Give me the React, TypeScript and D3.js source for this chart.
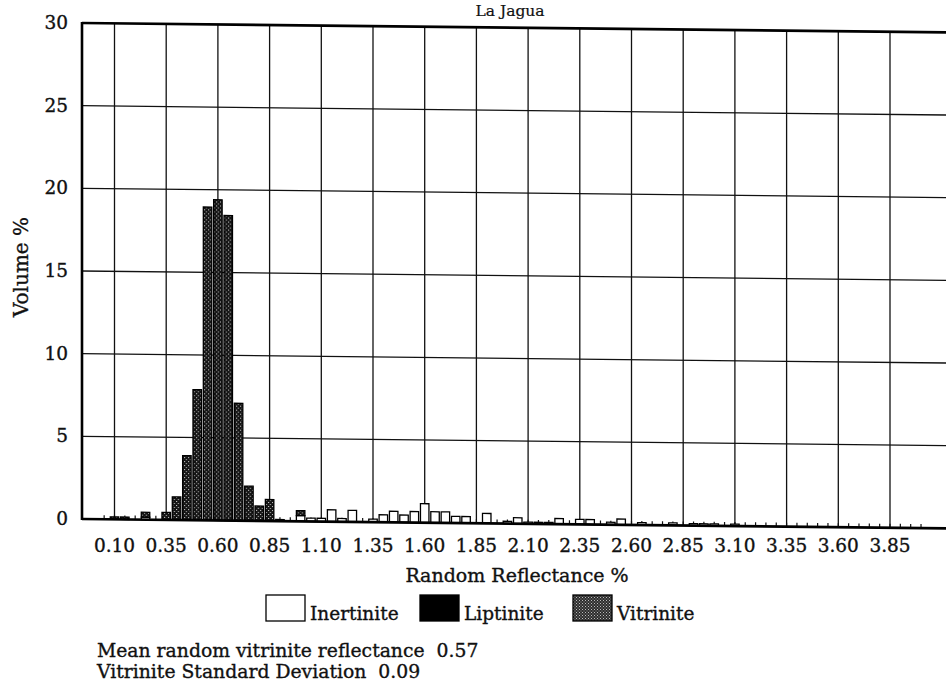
import React from 'react';
import * as d3 from 'd3';

const bins = [
  0.05, 0.1, 0.15, 0.2, 0.25, 0.3, 0.35, 0.4, 0.45, 0.5,
  0.55, 0.6, 0.65, 0.7, 0.75, 0.8, 0.85, 0.9, 0.95, 1.0,
  1.05, 1.1, 1.15, 1.2, 1.25, 1.3, 1.35, 1.4, 1.45, 1.5,
  1.55, 1.6, 1.65, 1.7, 1.75, 1.8, 1.85, 1.9, 1.95, 2.0,
  2.05, 2.1, 2.15, 2.2, 2.25, 2.3, 2.35, 2.4, 2.45, 2.5,
  2.55, 2.6, 2.65, 2.7, 2.75, 2.8, 2.85, 2.9, 2.95, 3.0,
  3.05, 3.1, 3.15, 3.2, 3.25, 3.3, 3.35, 3.4, 3.45, 3.5,
  3.55, 3.6, 3.65, 3.7, 3.75, 3.8, 3.85, 3.9, 3.95, 4.0,
];

const inertinite = [
  0, 0, 0, 0, 0.15, 0, 0, 0, 0, 0,
  0, 0, 0, 0, 0, 0, 0, 0.1, 0, 0.35,
  0.2, 0.2, 0.72, 0.2, 0.7, 0, 0.18, 0.45, 0.67, 0.45,
  0.67, 1.15, 0.67, 0.67, 0.4, 0.4, 0, 0.6, 0, 0.14,
  0.36, 0.1, 0.1, 0.1, 0.34, 0, 0.3, 0.3, 0, 0.15,
  0.35, 0, 0.15, 0, 0, 0.15, 0, 0.12, 0.12, 0.12,
  0, 0.12, 0, 0, 0, 0, 0, 0, 0, 0,
  0, 0, 0, 0, 0, 0, 0, 0, 0, 0,
];

const liptinite = [
  0, 0, 0, 0, 0, 0, 0, 0, 0, 0,
  0, 0, 0, 0, 0, 0, 0, 0, 0, 0,
  0, 0, 0, 0, 0, 0, 0, 0, 0, 0,
  0, 0, 0, 0, 0, 0, 0, 0, 0, 0,
  0, 0, 0, 0, 0, 0, 0, 0, 0, 0,
  0, 0, 0, 0, 0, 0, 0, 0, 0, 0,
  0, 0, 0, 0, 0, 0, 0, 0, 0, 0,
  0, 0, 0, 0, 0, 0, 0, 0, 0, 0,
];

const vitrinite = [
  0, 0.15, 0.15, 0, 0.3, 0, 0.45, 1.4, 3.9, 7.9,
  18.95, 19.4, 18.45, 7.1, 2.1, 0.9, 1.3, 0, 0, 0.3,
  0, 0, 0, 0, 0, 0, 0, 0, 0, 0,
  0, 0, 0, 0, 0, 0, 0, 0, 0, 0,
  0, 0, 0, 0, 0, 0, 0, 0, 0, 0,
  0, 0, 0, 0, 0, 0, 0, 0, 0, 0,
  0, 0, 0, 0, 0, 0, 0, 0, 0, 0,
  0, 0, 0, 0, 0, 0, 0, 0, 0, 0,
];

const xTickValues = [0.1, 0.35, 0.6, 0.85, 1.1, 1.35, 1.6, 1.85, 2.1, 2.35, 2.6, 2.85, 3.1, 3.35, 3.6, 3.85];
const xTickLabels = ['0.10', '0.35', '0.60', '0.85', '1.10', '1.35', '1.60', '1.85', '2.10', '2.35', '2.60', '2.85', '3.10', '3.35', '3.60', '3.85'];
const yTicks = [0, 5, 10, 15, 20, 25, 30];

const seriesKeys = ['inertinite', 'liptinite', 'vitrinite'];
const legendLabels = ['Inertinite', 'Liptinite', 'Vitrinite'];

const FONT = '"DejaVu Serif", "Liberation Serif", serif';

export default function App() {
  const W = 946;
  const H = 684;
  const left = 82;
  const right = 946;
  const x = d3.scaleLinear().domain([0.1, 3.85]).range([114.5, 890]);
  const y = d3.scaleLinear().domain([0, 30]).range([519, 23]);
  const binW = x(0.05) - x(0);
  const barW = binW * 0.82;

  const rows = bins.map((b, i) => ({
    bin: b,
    inertinite: inertinite[i],
    liptinite: liptinite[i],
    vitrinite: vitrinite[i],
  }));
  const stacked = d3.stack<any>().keys(seriesKeys)(rows);
  const fills: Record<string, string> = {
    inertinite: '#ffffff',
    liptinite: '#000000',
    vitrinite: 'url(#vitPat)',
  };
  const txt = { fill: '#111', stroke: '#111', strokeWidth: 0.35 };

  return (
    <svg
      width={W}
      height={H}
      style={{ position: 'absolute', left: 0, top: 0, background: '#fff' }}
      fontFamily={FONT}
    >
      <defs>
        <pattern id="vitPat" width="4" height="4" patternUnits="userSpaceOnUse">
          <rect width="4" height="4" fill="#141414" />
          <rect x="0" y="0" width="1" height="1" fill="#d8d8d8" />
          <rect x="2" y="2" width="1" height="1" fill="#d8d8d8" />
        </pattern>
        <pattern id="vitLeg" width="3" height="3" patternUnits="userSpaceOnUse">
          <rect width="3" height="3" fill="#2e2e2e" />
          <rect x="0" y="0" width="1" height="1" fill="#bbbbbb" />
          <rect x="1.5" y="1.5" width="1" height="1" fill="#999999" />
        </pattern>
      </defs>
      <rect width={W} height={H} fill="#fff" />

      {/* Title */}
      <text x={510} y={16} fontSize={15.5} textAnchor="middle" {...txt} strokeWidth={0.2}>La Jagua</text>

      <g transform={`translate(${left},0) skewY(0.62) translate(${-left},0)`}>
        {yTicks.filter((t) => t > 0 && t < 30).map((t) => (
          <line key={'h' + t} x1={left} x2={right} y1={y(t)} y2={y(t)} stroke="#111" strokeWidth={1.3} />
        ))}
        {xTickValues.map((v) => (
          <line key={'v' + v} x1={x(v)} x2={x(v)} y1={y(0)} y2={y(30)} stroke="#111" strokeWidth={1.3} />
        ))}
        {bins.map((b) => (
          <line key={'t' + b} x1={x(b)} x2={x(b)} y1={y(0)} y2={y(0) - 4} stroke="#111" strokeWidth={1.2} />
        ))}
        {stacked.map((s) => (
          <g key={s.key}>
            {s.map((d: any, i: number) => {
              const h = y(d[0]) - y(d[1]);
              if (h <= 0) return null;
              return (
                <rect
                  key={i}
                  x={x(bins[i]) - barW / 2}
                  y={y(d[1])}
                  width={barW}
                  height={h}
                  fill={fills[s.key as string]}
                  stroke="#000"
                  strokeWidth={1.3}
                />
              );
            })}
          </g>
        ))}
        <line x1={left} x2={right} y1={y(30)} y2={y(30)} stroke="#000" strokeWidth={2.6} />
        <line x1={left} x2={right} y1={y(0)} y2={y(0)} stroke="#000" strokeWidth={2.6} />
      </g>
      <line x1={left} x2={left} y1={y(0) + 1} y2={y(30) - 1} stroke="#000" strokeWidth={2.6} />

      {yTicks.map((t) => (
        <text key={'yl' + t} x={68} y={y(t) + 6} fontSize={18.5} textAnchor="end" {...txt}>{t}</text>
      ))}
      <text
        transform={`translate(22,${267}) rotate(-90)`}
        fontSize={20}
        textAnchor="middle"
        dominantBaseline="middle"
        {...txt}
      >
        Volume %
      </text>

      {xTickValues.map((v, i) => (
        <text key={'xl' + v} x={x(v)} y={552} fontSize={18.5} textAnchor="middle" {...txt}>{xTickLabels[i]}</text>
      ))}
      <text x={517} y={582} fontSize={19} textAnchor="middle" {...txt}>Random Reflectance %</text>

      {(() => {
        const boxes = [266, 420, 573];
        const legFills = ['#fff', '#000', 'url(#vitLeg)'];
        return legendLabels.map((lab, i) => (
          <g key={lab}>
            <rect x={boxes[i]} y={595} width={39} height={26} fill={legFills[i]} stroke="#000" strokeWidth={1.3} />
            <text x={boxes[i] + 44} y={620} fontSize={18.5} {...txt}>{lab}</text>
          </g>
        ));
      })()}

      <text x={97} y={657} fontSize={18.8} {...txt} xmlSpace="preserve">Mean random vitrinite reflectance  0.57</text>
      <text x={97} y={678} fontSize={18.8} {...txt} xmlSpace="preserve">Vitrinite Standard Deviation  0.09</text>
    </svg>
  );
}
